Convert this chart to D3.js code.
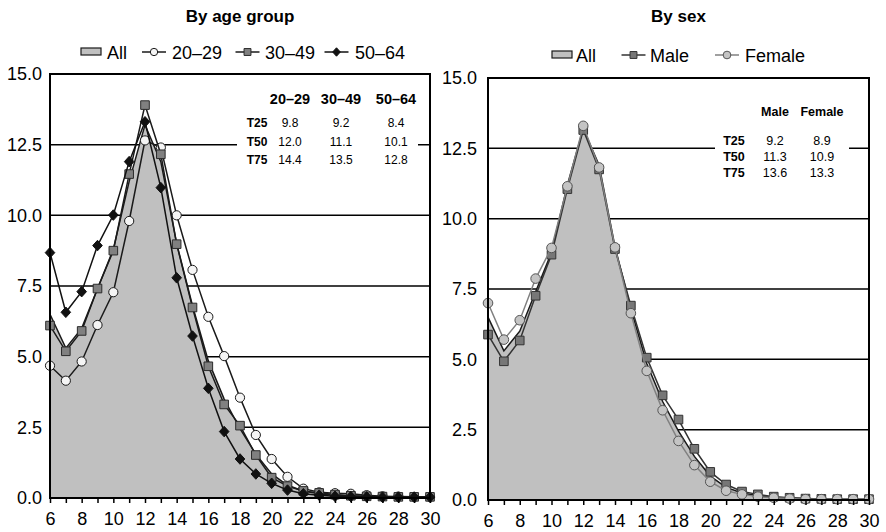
<!DOCTYPE html>
<html>
<head>
<meta charset="utf-8">
<script src="https://cdn.jsdelivr.net/npm/d3@7/dist/d3.min.js"></script>
<style>
  html, body { margin: 0; padding: 0; background: #fff; }
  svg { display: block; font-family: "Liberation Sans", Arial, Helvetica, sans-serif; }
</style>
</head>
<body>
<svg id="chart" width="886" height="532"></svg>
<script>
// Hour of day (x axis)
const hours = [6, 7, 8, 9, 10, 11, 12, 13, 14, 15, 16, 17, 18, 19, 20, 21, 22, 23, 24, 25, 26, 27, 28, 29, 30];

// Share (%) for the whole population
const allShare = [6.5, 5.3, 6.0, 7.4, 8.8, 11.2, 13.2, 11.9, 9.0, 6.8, 4.85, 3.5, 2.45, 1.55, 0.85, 0.45, 0.25, 0.15, 0.1, 0.07, 0.05, 0.04, 0.03, 0.03, 0.02];

// By age group
const age2029 = [4.68, 4.15, 4.83, 6.12, 7.28, 9.8, 12.65, 12.4, 10.0, 8.07, 6.41, 5.02, 3.55, 2.23, 1.38, 0.75, 0.33, 0.2, 0.17, 0.15, 0.1, 0.06, 0.05, 0.04, 0.04];
const age3049 = [6.1, 5.19, 5.91, 7.41, 8.75, 11.46, 13.9, 12.16, 8.98, 6.74, 4.66, 3.31, 2.56, 1.52, 0.72, 0.42, 0.25, 0.18, 0.12, 0.08, 0.06, 0.05, 0.04, 0.04, 0.04];
const age5064 = [8.68, 6.57, 7.3, 8.93, 10.01, 11.9, 13.31, 10.98, 7.79, 5.73, 3.88, 2.35, 1.38, 0.85, 0.52, 0.28, 0.15, 0.1, 0.06, 0.05, 0.04, 0.03, 0.03, 0.03, 0.03];

// By sex
const male = [5.88, 4.93, 5.67, 7.26, 8.72, 11.05, 13.15, 11.75, 8.92, 6.91, 5.06, 3.72, 2.86, 1.82, 1.0, 0.55, 0.3, 0.2, 0.12, 0.08, 0.05, 0.04, 0.03, 0.03, 0.03];
const female = [7.0, 5.7, 6.39, 7.87, 8.96, 11.15, 13.3, 11.82, 8.98, 6.64, 4.59, 3.19, 2.1, 1.24, 0.65, 0.33, 0.2, 0.12, 0.08, 0.05, 0.03, 0.03, 0.03, 0.03, 0.03];

// Axis ticks
const yTicks = [0, 2.5, 5, 7.5, 10, 12.5, 15];
const xTickLabels = [6, 8, 10, 12, 14, 16, 18, 20, 22, 24, 26, 28, 30];

// Quartile tables
const ageCols = ["20–29", "30–49", "50–64"];
const sexCols = ["Male", "Female"];
const quartRows = ["T25", "T50", "T75"];
const ageQuart = [[9.8, 9.2, 8.4], [12.0, 11.1, 10.1], [14.4, 13.5, 12.8]];
const sexQuart = [[9.2, 8.9], [11.3, 10.9], [13.6, 13.3]];

const svg = d3.select("#chart");

// Marker shapes; r is the half-extent in px
function markerPath(shape, r) {
  if (shape === "circle") return d3.symbol().type(d3.symbolCircle).size(Math.PI * r * r)();
  if (shape === "square") return `M${-r},${-r}H${r}V${r}H${-r}Z`;
  return `M0,${-r * 1.1}L${r},0L0,${r * 1.1}L${-r},0Z`;
}

function drawPanel(cfg) {
  const x = d3.scaleLinear().domain([6, 30]).range([cfg.left, cfg.right]);
  const y = d3.scaleLinear().domain([0, 15]).range([cfg.bottom, cfg.top]);
  const g = svg.append("g");

  // title
  g.append("text")
    .attr("x", (cfg.left + cfg.right) / 2).attr("y", 22)
    .attr("text-anchor", "middle").attr("font-size", 17).attr("font-weight", "bold")
    .text(cfg.title);

  // horizontal grid lines
  g.append("g").selectAll("line")
    .data(yTicks.filter(t => t > 0 && t < 15))
    .join("line")
    .attr("x1", cfg.left).attr("x2", cfg.right)
    .attr("y1", d => y(d)).attr("y2", d => y(d))
    .attr("stroke", "#000").attr("stroke-width", 1.5);

  // quartile table box (covers grid lines)
  const tb = cfg.table;
  g.append("rect")
    .attr("x", tb.x0).attr("y", tb.y0).attr("width", tb.x1 - tb.x0).attr("height", tb.y1 - tb.y0)
    .attr("fill", "#fff");
  tb.cols.forEach((c, i) => {
    g.append("text").attr("x", tb.colX[i]).attr("y", tb.headY)
      .attr("text-anchor", "middle").attr("font-size", tb.headSize).attr("font-weight", "bold").text(c);
  });
  quartRows.forEach((r, j) => {
    const yy = tb.rowY + j * tb.rowGap;
    g.append("text").attr("x", tb.labX).attr("y", yy)
      .attr("text-anchor", "middle").attr("font-size", tb.rowSize).attr("font-weight", "bold").text(r);
    tb.values[j].forEach((v, i) => {
      g.append("text").attr("x", tb.colX[i]).attr("y", yy)
        .attr("text-anchor", "middle").attr("font-size", tb.rowSize).text(v.toFixed(1));
    });
  });

  // "All" area
  const area = d3.area().x((d, i) => x(hours[i])).y0(y(0)).y1(d => y(d));
  const line = d3.line().x((d, i) => x(hours[i])).y(d => y(d));
  g.append("path").attr("d", area(allShare)).attr("fill", "#c0c0c0");
  g.append("path").attr("d", line(allShare)).attr("fill", "none")
    .attr("stroke", "#1a1a1a").attr("stroke-width", 1.5);

  // series lines with markers
  cfg.series.forEach(s => {
    g.append("path").attr("d", line(s.values)).attr("fill", "none")
      .attr("stroke", s.line).attr("stroke-width", 1.5);
    g.append("g").selectAll("path")
      .data(s.values)
      .join("path")
      .attr("d", markerPath(s.shape, s.r))
      .attr("transform", (d, i) => `translate(${x(hours[i])},${y(d)})`)
      .attr("fill", s.fill).attr("stroke", s.stroke).attr("stroke-width", 1);
  });

  // frame
  g.append("rect")
    .attr("x", cfg.left).attr("y", cfg.top)
    .attr("width", cfg.right - cfg.left).attr("height", cfg.bottom - cfg.top)
    .attr("fill", "none").attr("stroke", "#000").attr("stroke-width", 2);

  // x axis ticks and labels
  const xAxis = d3.axisBottom(x)
    .tickValues(hours)
    .tickSize(5)
    .tickFormat(d => xTickLabels.includes(d) ? d : "");
  const xa = g.append("g").attr("transform", `translate(0,${cfg.bottom})`).call(xAxis);
  xa.select(".domain").remove();
  xa.selectAll(".tick line").attr("stroke", "#000").attr("stroke-width", 1.5);
  xa.selectAll(".tick text").attr("font-size", 18).attr("font-family", null)
    .attr("fill", "#000").attr("dy", null).attr("y", 27);

  // y axis labels
  const yAxis = d3.axisLeft(y).tickValues(yTicks).tickSize(0).tickPadding(cfg.yPad)
    .tickFormat(d3.format(".1f"));
  const ya = g.append("g").attr("transform", `translate(${cfg.left},0)`).call(yAxis);
  ya.select(".domain").remove();
  ya.selectAll(".tick text").attr("font-size", 18).attr("font-family", null).attr("fill", "#000");

  // legend
  cfg.legend.forEach(item => {
    const ly = cfg.legendY;
    if (item.swatch) {
      g.append("rect").attr("x", item.mx - 10).attr("y", ly - 4).attr("width", 20).attr("height", 7)
        .attr("fill", "#c0c0c0").attr("stroke", "#1a1a1a").attr("stroke-width", 1.2);
    } else {
      g.append("line").attr("x1", item.mx - 12).attr("x2", item.mx + 12)
        .attr("y1", ly).attr("y2", ly).attr("stroke", item.s.line).attr("stroke-width", 1.5);
      g.append("path").attr("d", markerPath(item.s.shape, item.s.r * 0.8))
        .attr("transform", `translate(${item.mx},${ly})`)
        .attr("fill", item.s.fill).attr("stroke", item.s.stroke).attr("stroke-width", 1);
    }
    g.append("text").attr("x", item.tx).attr("y", ly + 6.5)
      .attr("font-size", 18).text(item.label);
  });
}

const s2029 = { values: age2029, shape: "circle", r: 4.6, fill: "#f5f5f5", stroke: "#1a1a1a", line: "#1a1a1a" };
const s3049 = { values: age3049, shape: "square", r: 4.3, fill: "#808080", stroke: "#2a2a2a", line: "#1a1a1a" };
const s5064 = { values: age5064, shape: "diamond", r: 4.8, fill: "#111", stroke: "#111", line: "#111" };
const sMale = { values: male, shape: "square", r: 4.3, fill: "#777", stroke: "#333", line: "#333" };
const sFemale = { values: female, shape: "circle", r: 4.8, fill: "#c4c4c4", stroke: "#555", line: "#808080" };

drawPanel({
  title: "By age group",
  left: 50, right: 430, top: 74, bottom: 498, yPad: 8,
  series: [s2029, s3049, s5064],
  legendY: 52,
  legend: [
    { swatch: true, mx: 91, tx: 107, label: "All" },
    { s: s2029, mx: 154, tx: 172, label: "20–29" },
    { s: s3049, mx: 247.5, tx: 265, label: "30–49" },
    { s: s5064, mx: 336.5, tx: 355, label: "50–64" }
  ],
  table: {
    x0: 237, x1: 418, y0: 86, y1: 170,
    cols: ageCols, values: ageQuart,
    colX: [290, 341, 396], labX: 257,
    headY: 104, headSize: 14.5, rowY: 127, rowGap: 18.7, rowSize: 12
  }
});

drawPanel({
  title: "By sex",
  left: 488, right: 869, top: 78, bottom: 500, yPad: 11,
  series: [sMale, sFemale],
  legendY: 55,
  legend: [
    { swatch: true, mx: 562, tx: 576, label: "All" },
    { s: sMale, mx: 633.5, tx: 650, label: "Male" },
    { s: sFemale, mx: 727, tx: 745, label: "Female" }
  ],
  table: {
    x0: 715, x1: 849, y0: 100, y1: 180,
    cols: sexCols, values: sexQuart,
    colX: [775, 822], labX: 734,
    headY: 116, headSize: 12.5, rowY: 144.5, rowGap: 16, rowSize: 12.5
  }
});
</script>
</body>
</html>
